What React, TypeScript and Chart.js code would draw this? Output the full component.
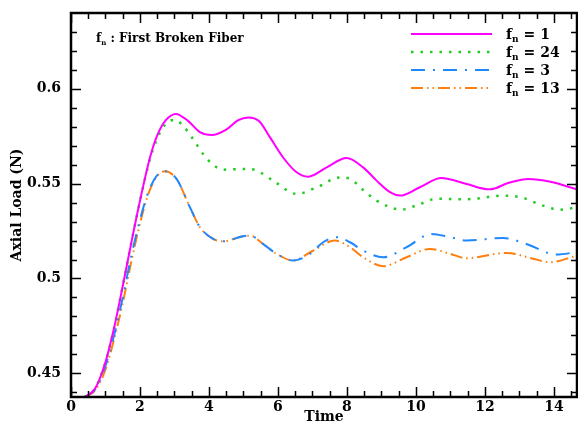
import React, { useEffect, useRef } from "react";
import { Chart, registerables } from "chart.js";
Chart.register(...registerables);

// ---- data ----
const tF1 = [0.4, 0.7, 1.0, 1.25, 1.5, 1.75, 2.0, 2.29, 2.5, 2.75, 3.04, 3.4, 3.75, 4.08, 4.5, 4.85, 5.14, 5.45, 5.77, 6.15, 6.54, 6.88, 7.4, 7.99, 8.47, 8.86, 9.25, 9.54, 10.1, 10.74, 11.47, 12.14, 12.7, 13.26, 13.9, 14.67];
const yF1 = [0.4375, 0.442, 0.456, 0.474, 0.496, 0.519, 0.541, 0.5638, 0.5755, 0.5835, 0.5868, 0.583, 0.577, 0.5756, 0.5785, 0.5835, 0.5849, 0.583, 0.5744, 0.5638, 0.556, 0.5537, 0.5585, 0.5635, 0.5586, 0.5516, 0.5455, 0.5437, 0.548, 0.553, 0.5498, 0.547, 0.5505, 0.5525, 0.551, 0.547];

const tF24 = [0.4, 0.7, 1.0, 1.25, 1.5, 1.75, 2.0, 2.29, 2.5, 2.75, 3.01, 3.25, 3.54, 3.83, 4.12, 4.4, 4.9, 5.19, 5.5, 5.86, 6.54, 7.12, 7.8, 8.09, 8.47, 8.86, 9.58, 10.12, 10.6, 11.47, 12.53, 13.11, 13.59, 14.17, 14.67];
const yF24 = [0.4375, 0.442, 0.456, 0.474, 0.496, 0.519, 0.541, 0.563, 0.574, 0.5815, 0.5837, 0.5805, 0.5735, 0.5656, 0.56, 0.5574, 0.5577, 0.5577, 0.5558, 0.5516, 0.5446, 0.548, 0.5533, 0.5525, 0.5467, 0.5411, 0.5363, 0.5393, 0.542, 0.5418, 0.5437, 0.5425, 0.539, 0.5363, 0.5375];

const tF3 = [0.4, 0.7, 1.0, 1.25, 1.5, 1.75, 2.0, 2.25, 2.5, 2.72, 3.06, 3.45, 3.74, 4.12, 4.41, 4.99, 5.19, 5.57, 5.96, 6.44, 6.93, 7.31, 7.7, 8.09, 8.47, 9.05, 9.73, 10.45, 10.99, 11.47, 12.53, 13.2, 14.08, 14.67];
const yF3 = [0.4375, 0.4415, 0.454, 0.47, 0.49, 0.512, 0.531, 0.546, 0.5545, 0.5565, 0.5525, 0.5375, 0.527, 0.5209, 0.5196, 0.5223, 0.5226, 0.5182, 0.513, 0.5095, 0.513, 0.5191, 0.5218, 0.5191, 0.5147, 0.5112, 0.5165, 0.5235, 0.5218, 0.52, 0.5214, 0.5182, 0.5126, 0.514];

const tF13 = [0.4, 0.7, 1.0, 1.25, 1.5, 1.75, 2.0, 2.25, 2.5, 2.72, 3.06, 3.45, 3.74, 4.12, 4.41, 4.99, 5.19, 5.57, 5.96, 6.44, 7.0, 7.65, 8.09, 8.47, 9.05, 9.73, 10.4, 10.99, 11.47, 12.63, 13.4, 13.88, 14.67];
const yF13 = [0.4375, 0.441, 0.452, 0.468, 0.487, 0.509, 0.529, 0.545, 0.554, 0.5565, 0.5525, 0.5375, 0.527, 0.5209, 0.5196, 0.5223, 0.5226, 0.5182, 0.513, 0.5095, 0.5145, 0.52, 0.5165, 0.5112, 0.5065, 0.5112, 0.5156, 0.513, 0.5107, 0.5135, 0.5104, 0.5086, 0.512];

const xTickValues = [0, 2, 4, 6, 8, 10, 12, 14];
const yTickValues = [0.45, 0.5, 0.55, 0.6];
const seriesLabels = ["1", "24", "3", "13"];
const annotationText = " : First Broken Fiber";
const xTitle = "Time";
const yTitle = "Axial Load (N)";

const FONT = "'DejaVu Serif', 'Liberation Serif', serif";

const colors = ["#ff00ff", "#22cc22", "#1e88ff", "#ff7f0e"];
const dashes = [[], [2.5, 7], [14, 8, 2, 8], [12, 4, 1.5, 4, 1.5, 4]];
const widths = [2, 2.5, 2, 2];

function pts(t: number[], y: number[]) {
  return t.map((v, i) => ({ x: v, y: y[i] }));
}

const framePlugin = {
  id: "frameTicks",
  afterDraw(chart: any) {
    const ctx = chart.ctx;
    const { left, right, top, bottom } = chart.chartArea;
    const xs = chart.scales.x;
    const ys = chart.scales.y;
    ctx.save();
    ctx.strokeStyle = "#000";
    ctx.lineWidth = 1.5;
    ctx.beginPath();
    for (let v = 0; v <= 14.6; v += 0.5) {
      const px = Math.round(xs.getPixelForValue(v)) + 0.5;
      const major = Math.abs(v / 2 - Math.round(v / 2)) < 1e-6;
      const len = major ? 10 : 6;
      ctx.moveTo(px, bottom);
      ctx.lineTo(px, bottom - len);
      ctx.moveTo(px, top);
      ctx.lineTo(px, top + len);
    }
    for (let k = 44; k <= 63; k++) {
      const v = k / 100;
      const py = Math.round(ys.getPixelForValue(v)) + 0.5;
      const major = k % 5 === 0;
      const len = major ? 10 : 6;
      ctx.moveTo(left, py);
      ctx.lineTo(left + len, py);
      ctx.moveTo(right, py);
      ctx.lineTo(right - len, py);
    }
    ctx.stroke();
    ctx.lineWidth = 2.5;
    ctx.strokeRect(left, top, right - left, bottom - top);

    ctx.fillStyle = "#000";
    ctx.font = `bold 14px ${FONT}`;
    ctx.textAlign = "center";
    ctx.textBaseline = "alphabetic";
    ctx.fillText(xTitle, (left + right) / 2, 421);
    ctx.save();
    ctx.translate(21, 205);
    ctx.rotate(-Math.PI / 2);
    ctx.fillText(yTitle, 0, 0);
    ctx.restore();

    ctx.textAlign = "left";
    ctx.font = `bold 12px ${FONT}`;
    let ax = 96;
    ctx.fillText("f", ax, 42);
    ax += ctx.measureText("f").width;
    ctx.font = `bold 7px ${FONT}`;
    ctx.fillText("n", ax, 45);
    ax += ctx.measureText("n").width;
    ctx.font = `bold 12px ${FONT}`;
    ctx.fillText(annotationText, ax, 42);

    const rowY = [34, 52, 70, 88];
    chart.data.datasets.forEach((ds: any, i: number) => {
      const y = rowY[i];
      ctx.save();
      ctx.strokeStyle = colors[i];
      ctx.lineWidth = widths[i];
      ctx.setLineDash(dashes[i]);
      ctx.beginPath();
      ctx.moveTo(411, y);
      ctx.lineTo(492, y);
      ctx.stroke();
      ctx.restore();
      let lx = 506;
      ctx.font = `bold 14px ${FONT}`;
      ctx.fillText("f", lx, y + 5);
      lx += ctx.measureText("f").width;
      ctx.font = `bold 9px ${FONT}`;
      ctx.fillText("n", lx, y + 8);
      lx += ctx.measureText("n").width + 5;
      ctx.font = `bold 14px ${FONT}`;
      ctx.fillText("= " + seriesLabels[i], lx, y + 5);
    });
    ctx.restore();
  },
};

export default function App() {
  const ref = useRef<HTMLCanvasElement>(null);
  useEffect(() => {
    document.body.style.margin = "0";
    const canvas = ref.current!;
    const series = [
      pts(tF1, yF1),
      pts(tF24, yF24),
      pts(tF3, yF3),
      pts(tF13, yF13),
    ];
    const chart = new Chart(canvas, {
      type: "line",
      data: {
        datasets: series.map((d, i) => ({
          label: "f_n = " + seriesLabels[i],
          data: d,
          borderColor: colors[i],
          borderWidth: widths[i],
          borderDash: dashes[i],
          pointRadius: 0,
          fill: false,
          cubicInterpolationMode: "monotone" as const,
        })),
      },
      options: {
        animation: false,
        responsive: false,
        layout: { padding: { top: 13, right: 1, left: 0, bottom: 0 } },
        plugins: { legend: { display: false }, tooltip: { enabled: false } },
        scales: {
          x: {
            type: "linear",
            min: 0,
            max: 14.67,
            grid: { display: false, drawTicks: false },
            border: { display: false },
            afterBuildTicks: (s: any) => {
              s.ticks = xTickValues.map((v) => ({ value: v }));
            },
            afterFit: (s: any) => {
              s.height = 27;
              s.paddingLeft = 0;
              s.paddingRight = 0;
            },
            ticks: {
              padding: 2,
              color: "#000",
              maxRotation: 0,
              autoSkip: false,
              font: { family: FONT, size: 14, weight: "bold" },
              callback: (v: any) => String(v),
            },
          },
          y: {
            type: "linear",
            min: 0.4375,
            max: 0.64,
            grid: { display: false, drawTicks: false },
            border: { display: false },
            afterBuildTicks: (s: any) => {
              s.ticks = yTickValues.map((v) => ({ value: v }));
            },
            afterFit: (s: any) => {
              s.width = 71;
              s.paddingTop = 0;
              s.paddingBottom = 0;
            },
            ticks: {
              padding: 10,
              color: "#000",
              autoSkip: false,
              font: { family: FONT, size: 14, weight: "bold" },
              callback: (v: any) => String(+Number(v).toFixed(2)),
            },
          },
        },
      },
      plugins: [framePlugin],
    });
    return () => chart.destroy();
  }, []);
  return <canvas ref={ref} width={578} height={424} style={{ display: "block" }} />;
}
